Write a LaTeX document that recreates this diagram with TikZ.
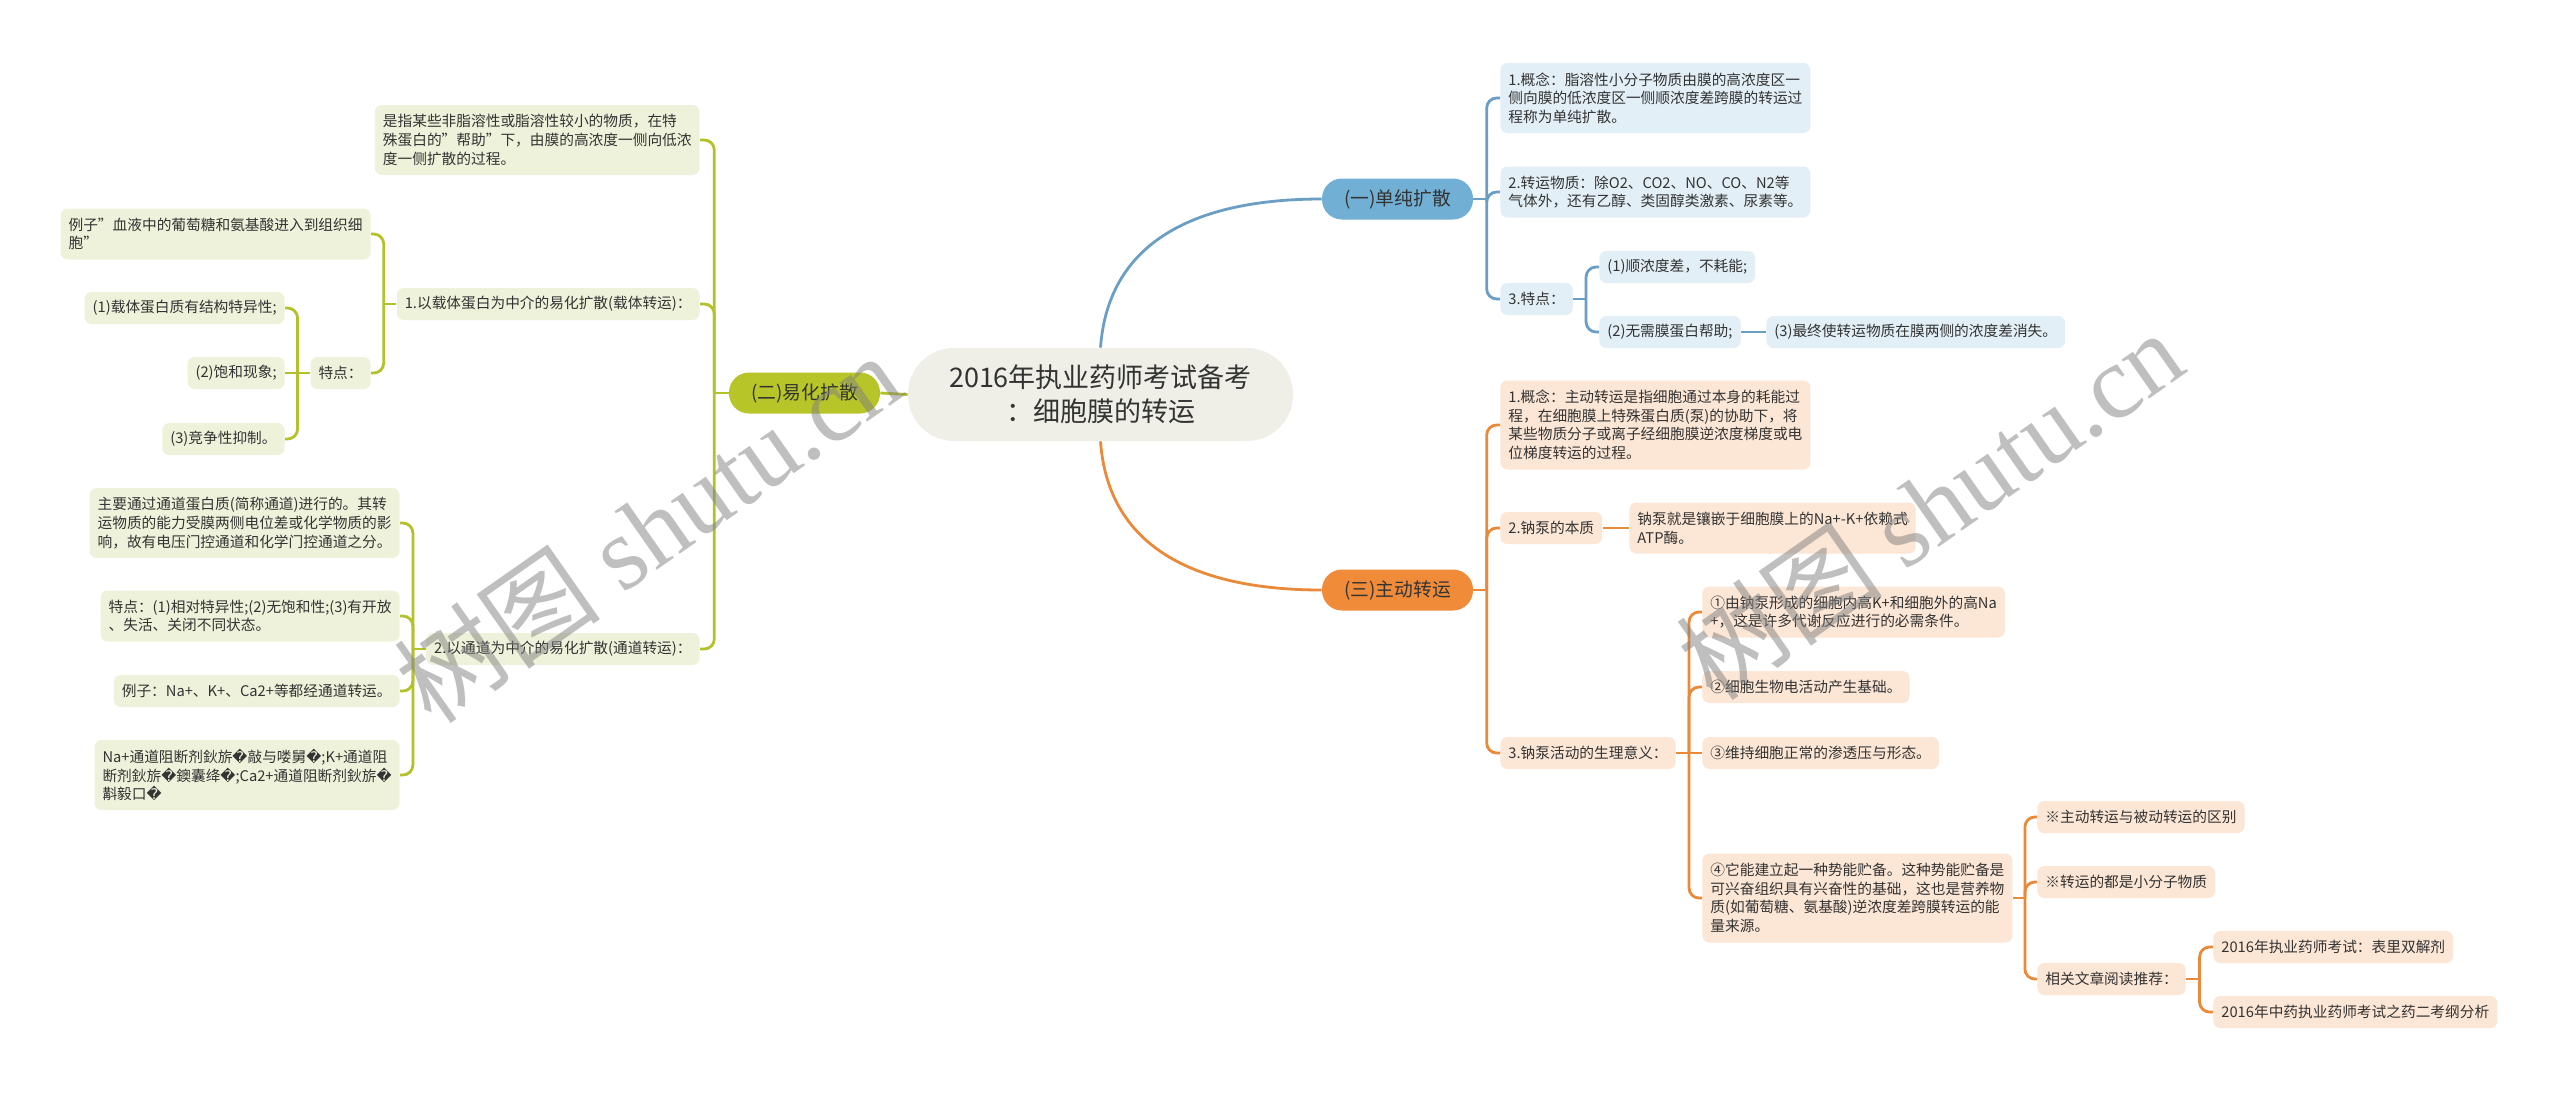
\documentclass[tikz,border=0pt]{standalone}
\usepackage{fontspec}
\setmainfont{Noto Sans CJK SC}
\newfontfamily\djv{DejaVu Sans}
\newfontfamily\wmserif{Liberation Serif}
\usetikzlibrary{calc}
\definecolor{txt}{HTML}{333333}
\definecolor{bline}{HTML}{6A9EC4}
\definecolor{bfill}{HTML}{71AFD5}
\definecolor{bchild}{HTML}{E3EFF7}
\definecolor{gline}{HTML}{B3C22B}
\definecolor{gfill}{HTML}{B7C529}
\definecolor{gchild}{HTML}{EFF2DA}
\definecolor{oline}{HTML}{E88A3A}
\definecolor{ofill}{HTML}{F08B3A}
\definecolor{ochild}{HTML}{FCE6D5}
\definecolor{rootfill}{HTML}{EFEFE8}
\newcommand\rep{{\djv\char"FFFD}}
\newcommand\rconn[3]{%
  \draw[#1] let \p1=(#2.east), \p2=(#3.west) in (\p1) -- ({(\x1+\x2)/2},\y1);
  \draw[#1,rounded corners=5pt] let \p1=(#2.east), \p2=(#3.west) in ({(\x1+\x2)/2},\y1) |- (\p2);}
\newcommand\lconn[3]{%
  \draw[#1] let \p1=(#2.west), \p2=(#3.east) in (\p1) -- ({(\x1+\x2)/2},\y1);
  \draw[#1,rounded corners=5pt] let \p1=(#2.west), \p2=(#3.east) in ({(\x1+\x2)/2},\y1) |- (\p2);}
\begin{document}
\begin{tikzpicture}[x=0.5pt,y=-0.5pt,
  leaf/.style={rounded corners=3.5pt, inner xsep=4pt, inner ysep=2pt, align=left,
    font=\fontsize{7.35pt}{9.3pt}\selectfont, text=txt},
  l1/.style={minimum height=16pt},
  l2/.style={minimum height=25.5pt},
  l3/.style={minimum height=35pt},
  l4/.style={minimum height=44.5pt},
  bleaf/.style={leaf,fill=bchild},
  gleaf/.style={leaf,fill=gchild},
  oleaf/.style={leaf,fill=ochild},
  pill/.style={rounded corners=10pt, minimum width=75.5pt, minimum height=20.5pt,
    inner sep=0pt, font=\fontsize{9.4pt}{11pt}\selectfont, text=txt},
  bc/.style={draw=bline, line width=1.4pt},
  gc/.style={draw=gline, line width=1.4pt},
  oc/.style={draw=oline, line width=1.4pt},
  wm/.style={font=\fontsize{52pt}{58pt}\selectfont, text=black!50, text opacity=0.5}
]
\fill[white] (0,0) rectangle (2560,1093);
\useasboundingbox (0,0) rectangle (2560,1093);

% root and branches
\node[fill=rootfill, rounded corners=23pt, minimum width=192.5pt, minimum height=46.5pt,
  inner sep=0pt, align=center, font=\fontsize{13.5pt}{17pt}\selectfont, text=txt]
  (root) at (1100.5,394.5) {2016年执业药师考试备考\\：细胞膜的转运};
\node[pill,fill=bfill] (b1) at (1397.5,199) {(一)单纯扩散};
\node[pill,fill=gfill] (b2) at (804.5,393) {(二)易化扩散};
\node[pill,fill=ofill] (b3) at (1397.5,590) {(三)主动转运};

% blue branch
\node[bleaf,l3,anchor=west] (bl1) at (1500,98) {1.概念：脂溶性小分子物质由膜的高浓度区一\\侧向膜的低浓度区一侧顺浓度差跨膜的转运过\\程称为单纯扩散。};
\node[bleaf,l2,anchor=west] (bl2) at (1500,192) {2.转运物质：除O2、CO2、NO、CO、N2等\\气体外，还有乙醇、类固醇类激素、尿素等。};
\node[bleaf,l1,anchor=west] (bl3) at (1500,299) {3.特点：};
\node[bleaf,l1,anchor=west] (bl31) at (1599,267) {(1)顺浓度差，不耗能;};
\node[bleaf,l1,anchor=west] (bl32) at (1599,332) {(2)无需膜蛋白帮助;};
\node[bleaf,l1,anchor=west] (bl33) at (1766,332) {(3)最终使转运物质在膜两侧的浓度差消失。};

% orange branch
\node[oleaf,l4,anchor=west] (o1) at (1500,425) {1.概念：主动转运是指细胞通过本身的耗能过\\程，在细胞膜上特殊蛋白质(泵)的协助下，将\\某些物质分子或离子经细胞膜逆浓度梯度或电\\位梯度转运的过程。};
\node[oleaf,l1,anchor=west] (o2) at (1500,528) {2.钠泵的本质};
\node[oleaf,l2,anchor=west] (o21) at (1629,528) {钠泵就是镶嵌于细胞膜上的Na+-K+依赖式\\ATP酶。};
\node[oleaf,l1,anchor=west] (o3) at (1500,753) {3.钠泵活动的生理意义：};
\node[oleaf,l2,anchor=west] (o31) at (1702,612) {①由钠泵形成的细胞内高K+和细胞外的高Na\\+，这是许多代谢反应进行的必需条件。};
\node[oleaf,l1,anchor=west] (o32) at (1702,687) {②细胞生物电活动产生基础。};
\node[oleaf,l1,anchor=west] (o33) at (1702,753) {③维持细胞正常的渗透压与形态。};
\node[oleaf,l4,anchor=west] (o34) at (1702,898) {④它能建立起一种势能贮备。这种势能贮备是\\可兴奋组织具有兴奋性的基础，这也是营养物\\质(如葡萄糖、氨基酸)逆浓度差跨膜转运的能\\量来源。};
\node[oleaf,l1,anchor=west] (o341) at (2037,817) {※主动转运与被动转运的区别};
\node[oleaf,l1,anchor=west] (o342) at (2037,882) {※转运的都是小分子物质};
\node[oleaf,l1,anchor=west] (o343) at (2037,979) {相关文章阅读推荐：};
\node[oleaf,l1,anchor=west] (o3431) at (2213,947) {2016年执业药师考试：表里双解剂};
\node[oleaf,l1,anchor=west] (o3432) at (2213,1012) {2016年中药执业药师考试之药二考纲分析};

% green branch
\node[gleaf,l3,anchor=east] (g1) at (700,140) {是指某些非脂溶性或脂溶性较小的物质，在特\\殊蛋白的"帮助"下，由膜的高浓度一侧向低浓\\度一侧扩散的过程。};
\node[gleaf,l1,anchor=east] (g2) at (700,304) {1.以载体蛋白为中介的易化扩散(载体转运)：};
\node[gleaf,l1,anchor=east] (g3) at (700,649) {2.以通道为中介的易化扩散(通道转运)：};
\node[gleaf,l2,anchor=east] (g21) at (371,234) {例子"血液中的葡萄糖和氨基酸进入到组织细\\胞"};
\node[gleaf,l1,anchor=east] (g22) at (371,373) {特点：};
\node[gleaf,l1,anchor=east] (g221) at (285,308) {(1)载体蛋白质有结构特异性;};
\node[gleaf,l1,anchor=east] (g222) at (285,373) {(2)饱和现象;};
\node[gleaf,l1,anchor=east] (g223) at (285,439) {(3)竞争性抑制。};
\node[gleaf,l3,anchor=east] (g31) at (400,523) {主要通过通道蛋白质(简称通道)进行的。其转\\运物质的能力受膜两侧电位差或化学物质的影\\响，故有电压门控通道和化学门控通道之分。};
\node[gleaf,l2,anchor=east] (g32) at (400,616) {特点：(1)相对特异性;(2)无饱和性;(3)有开放\\、失活、关闭不同状态。};
\node[gleaf,l1,anchor=east] (g33) at (400,691) {例子：Na+、K+、Ca2+等都经通道转运。};
\node[gleaf,l3,anchor=east] (g34) at (400,775) {Na+通道阻断剂鈥旂\rep 敲与喽舅\rep;K+通道阻\\断剂鈥旂\rep 鐭囊绛\rep;Ca2+通道阻断剂鈥旂\rep\\斠毅口\rep};

% root connectors
\draw[bc] (root.north) .. controls ($(root.north)+(8,-110)$) and ($(b1.west)+(-120,0)$) .. (b1.west);
\draw[oc] (root.south) .. controls ($(root.south)+(8,110)$) and ($(b3.west)+(-120,0)$) .. (b3.west);
\draw[gc] (root.west) -- (b2.east);

% blue connectors
\rconn{bc}{b1}{bl1}
\rconn{bc}{b1}{bl2}
\rconn{bc}{b1}{bl3}
\rconn{bc}{bl3}{bl31}
\rconn{bc}{bl3}{bl32}
\draw[bc] (bl32.east) -- (bl33.west);

% orange connectors
\rconn{oc}{b3}{o1}
\rconn{oc}{b3}{o2}
\rconn{oc}{b3}{o3}
\draw[oc] (o2.east) -- (o21.west);
\rconn{oc}{o3}{o31}
\rconn{oc}{o3}{o32}
\draw[oc] (o3.east) -- (o33.west);
\rconn{oc}{o3}{o34}
\rconn{oc}{o34}{o341}
\rconn{oc}{o34}{o342}
\rconn{oc}{o34}{o343}
\rconn{oc}{o343}{o3431}
\rconn{oc}{o343}{o3432}

% green connectors
\lconn{gc}{b2}{g1}
\lconn{gc}{b2}{g2}
\lconn{gc}{b2}{g3}
\lconn{gc}{g2}{g21}
\lconn{gc}{g2}{g22}
\lconn{gc}{g22}{g221}
\draw[gc] (g22.west) -- (g222.east);
\lconn{gc}{g22}{g223}
\lconn{gc}{g3}{g31}
\lconn{gc}{g3}{g32}
\lconn{gc}{g3}{g33}
\lconn{gc}{g3}{g34}

% watermarks
\node[wm,rotate=35] (wm1) at (648,528) {树图 {\wmserif shutu.cn}};
\node[wm,rotate=35] (wm2) at (1930,505) {树图 {\wmserif shutu.cn}};
\end{tikzpicture}
\end{document}
